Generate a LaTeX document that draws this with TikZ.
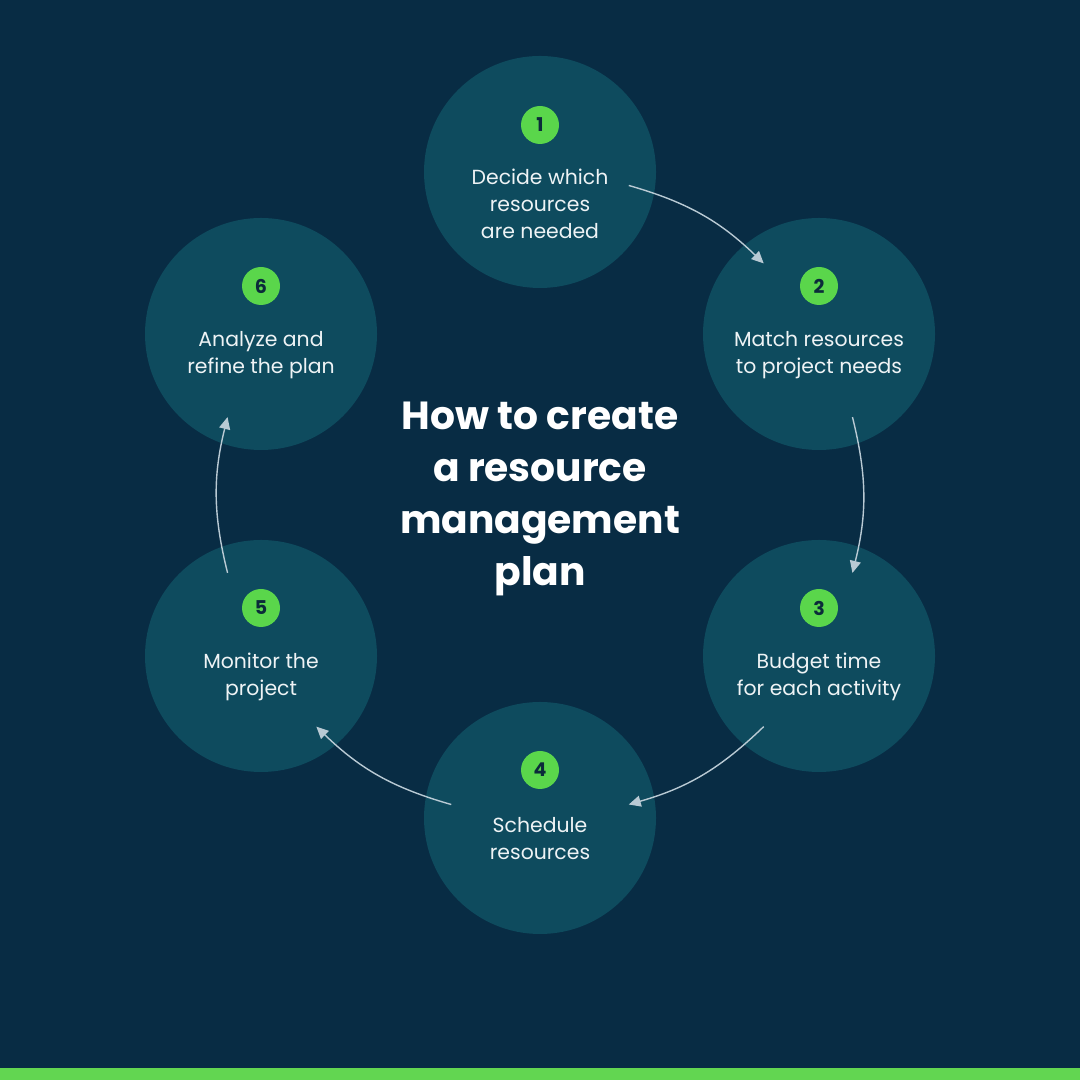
\documentclass[tikz,border=0pt]{standalone}
\usepackage{fontspec}
\setmainfont{Poppins}
\usetikzlibrary{arrows.meta,calc}
\definecolor{bg}{HTML}{082C44}
\definecolor{disc}{HTML}{0E4B5E}
\definecolor{badge}{HTML}{5AD64B}
\definecolor{bar}{HTML}{62D651}
\definecolor{txt}{HTML}{EEF3F5}
\definecolor{arr}{HTML}{B9CAD4}
\definecolor{num}{HTML}{0B2B3A}
\tikzset{
  stepdisc/.style={circle,fill=disc,minimum size=232pt*0.5,inner sep=0pt},
  stepbadge/.style={circle,fill=badge,minimum size=38pt*0.5,inner sep=0pt,font=\fontsize{9.5}{11}\selectfont\bfseries,text=num},
  steptext/.style={align=center,text=txt,font=\fontsize{10.2}{13.5}\selectfont},
  flow/.style={draw=arr,line width=0.7pt,-{Triangle[length=6pt,width=5.5pt]}},
}
\begin{document}
\begin{tikzpicture}[x=0.5pt,y=0.5pt]
\fill[bg] (0,0) rectangle (1080,1080);
\useasboundingbox (0,0) rectangle (1080,1080);
\fill[bar] (0,0) rectangle (1080,12);
% discs
\node[stepdisc] (c1) at (540,908) {};
\node[stepdisc] (c2) at (819,746) {};
\node[stepdisc] (c3) at (819,424) {};
\node[stepdisc] (c4) at (540,262) {};
\node[stepdisc] (c5) at (261,424) {};
\node[stepdisc] (c6) at (261,746) {};
% badges
\node[stepbadge] (b1) at ($(c1)+(0,47)$) {1};
\node[stepbadge] (b2) at ($(c2)+(0,48)$) {2};
\node[stepbadge] (b3) at ($(c3)+(0,48)$) {3};
\node[stepbadge] (b4) at ($(c4)+(0,48)$) {4};
\node[stepbadge] (b5) at ($(c5)+(0,48)$) {5};
\node[stepbadge] (b6) at ($(c6)+(0,48)$) {6};
% texts
\node[steptext] (t1) at ($(c1)+(0,-32)$) {Decide which\\resources\\are needed};
\node[steptext] (t2) at ($(c2)+(0,-21)$) {Match resources\\to project needs};
\node[steptext] (t3) at ($(c3)+(0,-21)$) {Budget time\\for each activity};
\node[steptext] (t4) at ($(c4)+(0,-21)$) {Schedule\\resources};
\node[steptext] (t5) at ($(c5)+(0,-21)$) {Monitor the\\project};
\node[steptext] (t6) at ($(c6)+(0,-21)$) {Analyze and\\refine the plan};
% title
\node[align=center,text=white,font=\fontsize{19.6}{26}\selectfont\bfseries] (title) at (540,581) {How to create\\a resource\\management\\plan};
% arrows
\coordinate (ctr) at (540,585);
\coordinate (s1) at ($(ctr)+(74:322)$);
\coordinate (e1) at ($(ctr)+(46:322)$);
\coordinate (s2) at ($(ctr)+(14:322)$);
\coordinate (e2) at ($(ctr)+(-14:322)$);
\coordinate (s3) at ($(ctr)+(-46:322)$);
\coordinate (e3) at ($(ctr)+(-74:322)$);
\coordinate (s4) at ($(ctr)+(-106:322)$);
\coordinate (e4) at ($(ctr)+(-134:322)$);
\coordinate (s5) at ($(ctr)+(-166:322)$);
\coordinate (e5) at ($(ctr)+(-194:322)$);
\draw[flow] (s1) to[bend left=14] (e1);
\draw[flow] (s2) to[bend left=14] (e2);
\draw[flow] (s3) to[bend left=14] (e3);
\draw[flow] (s4) to[bend left=14] (e4);
\draw[flow] (s5) to[bend left=14] (e5);
\end{tikzpicture}
\end{document}
